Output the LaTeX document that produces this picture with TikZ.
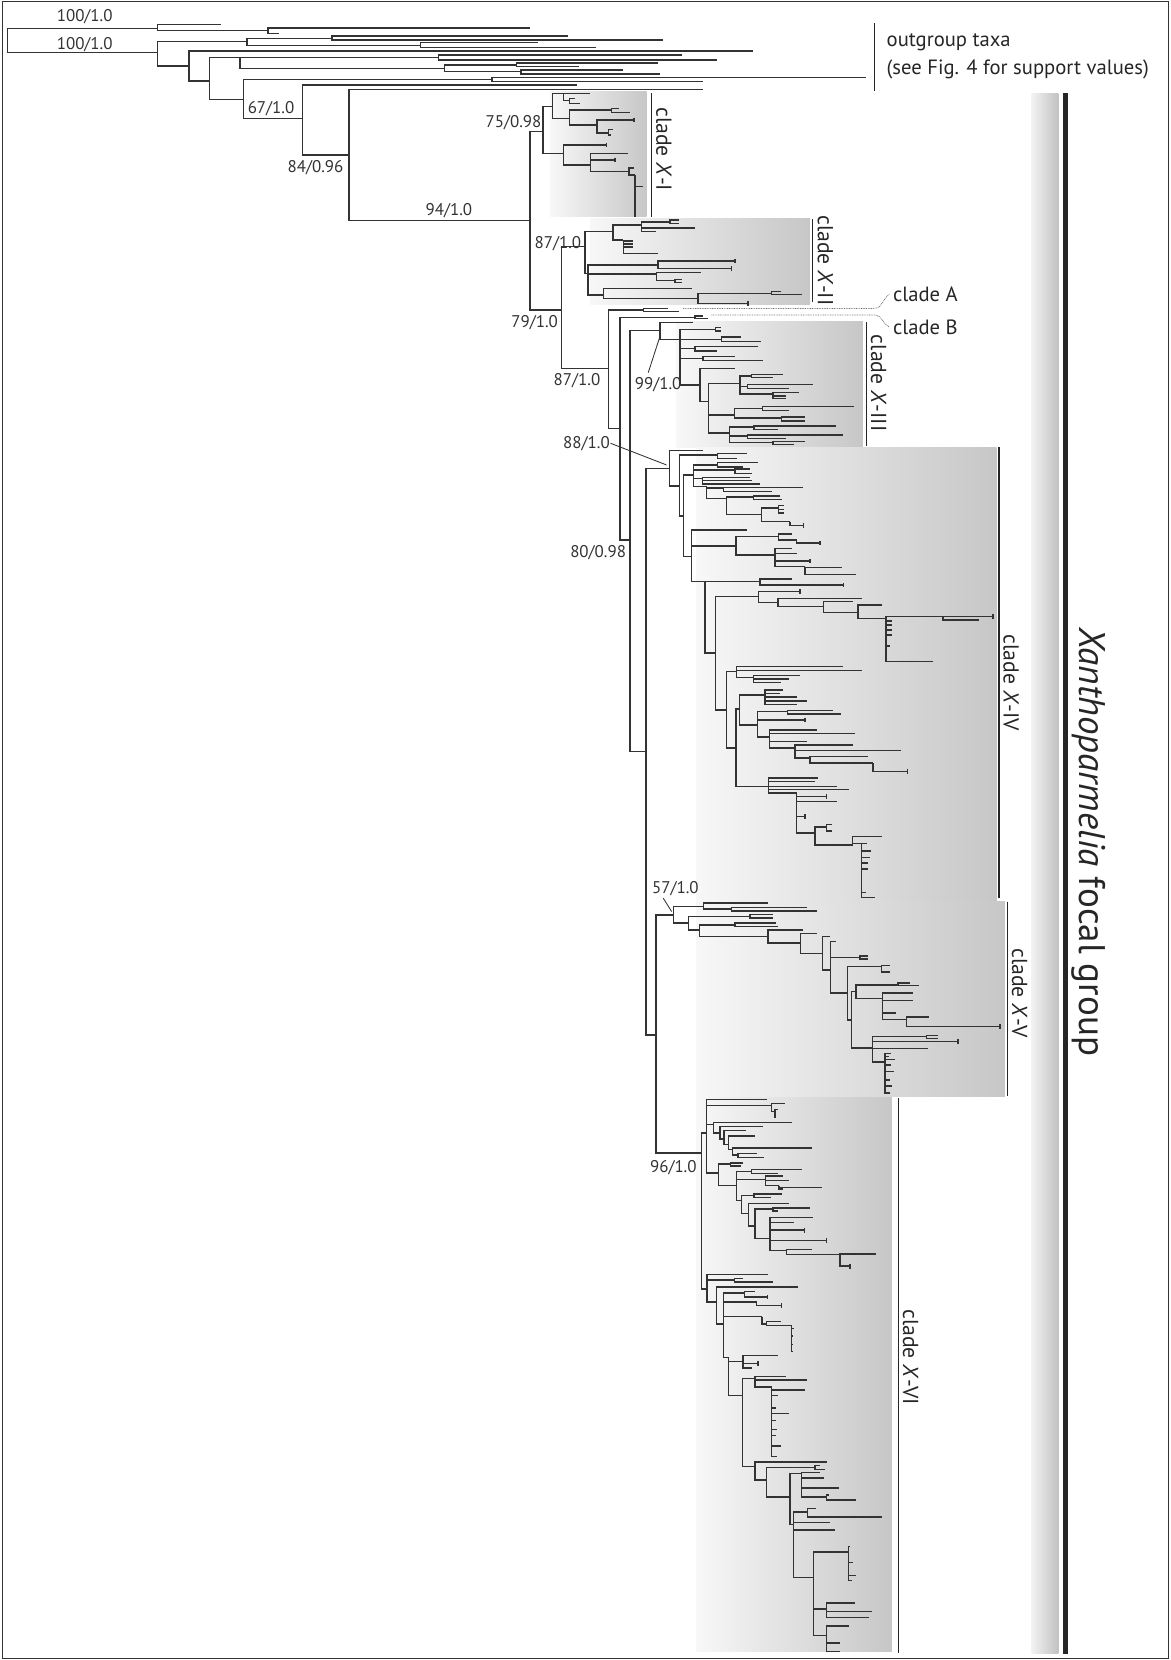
\documentclass[tikz,border=0pt]{standalone}
\usepackage{fontspec}
\setmainfont{PT Sans}
\newcommand\Cl[3]{\foreach \cx/\cy in {#3}{\draw[br] (#1,#2) |- (\cx,\cy);}}
\newcommand\Tk[2]{\draw[br] (#1,#2-2.2) -- (#1,#2+2.2);}
\begin{document}
\begin{tikzpicture}[x=1pt,y=-1pt,
  br/.style={line width=1.35pt, draw=black!80},
  cbar/.style={line width=1.6pt, draw=black!85},
  sup/.style={font=\fontsize{16}{16}\selectfont, text=black!80, inner sep=0.5pt},
  clab/.style={font=\fontsize{20.5}{20.5}\selectfont, rotate=-90, text=black!85, inner sep=0pt},
  gbox/.style={left color=black!3, right color=black!22},
  dotl/.style={draw=black!55, line width=0.7pt, dash pattern=on 0.8pt off 0.8pt},
  lead/.style={draw=black!80, line width=0.8pt}]
\useasboundingbox (0,0) rectangle (1106,1568);
% gradient boxes
\shade[gbox] (519.4,86.6) rectangle (610.7,204.6);
\shade[gbox] (557.2,206.2) rectangle (765,288);
\shade[gbox] (639,303.8) rectangle (815,423);
\shade[gbox] (658,422.5) rectangle (941.3,851.6);
\shade[gbox] (658,851.6) rectangle (949.2,1035.7);
\shade[gbox] (658,1037) rectangle (842.5,1560);
\shade[left color=black!5, right color=black!24] (974.4,88) rectangle (999.6,1562);
% frame
\draw[line width=0.9pt, black!80] (2.5,1.5) rectangle (1104,1566.5);
% ---------- outgroup ----------
\Cl{7}{38}{148.8/26.8, 148.8/49.7}
\Cl{148.8}{26.8}{209/23, 253/29}
\Cl{253}{29}{501/26.5, 264/31.5}
\Cl{148.8}{49.7}{233.5/39.4, 178.5/62.3}
\Cl{233.5}{39.4}{313.6/36.2, 397/43.1}
\Cl{313.6}{36.2}{536.5/34, 626/37.8}
\Cl{397}{43.1}{508/40.3, 563/44.7}
\Cl{178.5}{62.3}{711/48.2, 198/76.5}
\Cl{198}{76.5}{226.6/54.5, 230/93.8}
\Cl{226.6}{54.5}{414/54.5, 420/64.5}
\Cl{414}{54.5}{644.6/52, 677.6/56.5}
\Cl{420}{64.5}{487.6/61.4, 492/67.7}
\Cl{487.6}{61.4}{621.7/59.4, 547/63}
\Cl{492}{67.7}{588/66, 623.5/70}
\Cl{230}{93.8}{464.7/75, 286/111.8}
\Cl{464.7}{75}{818/73, 664/77}
\Cl{286}{111.8}{545/80.3, 329.6/146.4}
\Cl{329.6}{146.4}{664/84.4, 500.5/208.4}
% ---------- focal backbone ----------
\Cl{500.5}{208.4}{513.1/124.4, 530.4/292.8}
% clade X-I
\Cl{513.1}{124.4}{522/100.7, 532/144.8}
\Cl{522}{100.7}{532/88.5, 537.7/111.8}
\Cl{532}{88.5}{557/88.5, 538/95}
\Cl{538}{95}{548/97.5, 543/93}
\Cl{537.7}{111.8}{577.6/104, 564/118}
\Cl{577.6}{104}{595/106.5, 585/102.5}
\Cl{564}{118}{598.7/113.3, 574.5/125.5}
\Tk{598.7}{113.3}
\Cl{574.5}{125.5}{579/122.5, 577/127.5}
\Cl{532}{144.8}{573/137, 557.8/155.8}
\Tk{573}{137}
\Cl{557.8}{155.8}{593.4/144.8, 580.8/151, 594.3/162}
\Tk{580.8}{151}
\Cl{594.3}{162}{599/158.5, 600/165.5}
\Cl{600}{165.5}{607.6/176.3, 600/204.6}
% clade X-II
\Cl{530.4}{292.8}{552.5/233, 574.5/347.9}
\Cl{552.5}{233}{579.2/218.8, 555.6/258.1}
\Cl{579.2}{218.8}{606/212.5, 588.7/226.7}
\Cl{606}{212.5}{632.7/209.5, 656.4/215.3, 620/218.8}
\Cl{632.7}{209.5}{641.5/208, 641.5/211}
\Cl{588.7}{226.7}{598/227.5, 598/230.5, 598/233.5, 621.7/239.3}
\Cl{555.6}{258.1}{621.7/250.3, 620.1/258.8, 569.8/278.6}
\Cl{621.7}{250.3}{694.1/246.5, 691/253.5}
\Tk{694.1}{246.5}\Tk{691}{253.5}
\Cl{620.1}{258.8}{662.6/257.5, 637.5/265}
\Cl{637.5}{265}{644/264, 644/267}
\Cl{569.8}{278.6}{653.2/272.3, 659.5/281.8}
\Cl{659.5}{281.8}{728.7/277.5, 706.7/286.5}
\Cl{728.7}{277.5}{757.1/278, 738/275.5}
\Tk{706.7}{286.5}
% clades A and B
\Cl{574.5}{347.9}{607.6/292.8, 585.5/404.5}
\Cl{607.6}{292.8}{631.2/291.3, 641.6/294}
\Cl{585.5}{404.5}{656.4/299.7, 595/510}
\Cl{656.4}{299.7}{664.2/298.5, 669/301}
% clade X-III
\Cl{595}{510}{623.3/312.3, 610.1/710}
\Cl{623.3}{312.3}{654.8/304.4, 642.2/320.5}
\Cl{642.2}{320.5}{676/311, 681.5/320.5, 656.4/329, 664/338.5, 661/363.6}
\Cl{676}{311}{681/309.5, 681/312.5}
\Cl{681.5}{320.5}{700/318.5, 719/322.5}
\Cl{656.4}{329}{716/327.5, 677/331.5}
\Cl{664}{338.5}{694/337, 721/340.5}
\Cl{661}{363.6}{694/348, 669/379}
\Cl{669}{379}{699/362, 694/392, 689/409.2}
\Cl{699}{362}{710/355, 706/365, 730/372}
\Cl{710}{355}{740/353.5, 730/356.5}
\Cl{706}{365}{768/363, 745/367}
\Cl{730}{372}{755/370.5, 742/374, 742/376.5}
\Cl{694}{392}{720/386, 738/395}
\Cl{720}{386}{807/384, 745/388}
\Cl{738}{395}{760/394, 760/397.5}
\Cl{689}{409.2}{712/403.5, 706/412, 730/418}
\Cl{712}{403.5}{790/402.5, 735/405.5}
\Cl{706}{412}{796/411, 742/414}
\Cl{730}{418}{760/417, 750/420}
% clade X-IV
\Cl{610.1}{710}{632.2/442.3, 619.6/977.5}
\Cl{632.2}{442.3}{664.3/425.7, 641.6/459}
\Cl{641.6}{459}{677.5/429.8, 645.4/487.4}
\Cl{677.5}{429.8}{705.2/428.5, 695.8/433}
\Cl{645.4}{487.4}{654.9/448.7, 653.3/525.8}
\Cl{654.9}{448.7}{677.5/439.2, 694.2/444, 663.7/452, 667.5/459.7}
\Cl{677.5}{439.2}{716.3/437, 702.1/441}
\Cl{694.2}{444}{708.4/443, 710/447}
\Cl{663.7}{452}{708.4/451, 710/454, 717.8/457}
\Cl{667.5}{459.7}{683.2/461, 686/470.7}
\Cl{683.2}{461}{758.8/460.5, 728.8/464}
\Cl{686}{470.7}{711.5/469.5, 719.4/486}
\Cl{711.5}{469.5}{736.7/468.5, 738.3/472}
\Cl{719.4}{486}{735.2/480, 746.2/492.7}
\Cl{735.2}{480}{741/477.5, 741/481, 741/484.5}
\Cl{746.2}{492.7}{758.8/496.5}
\Tk{758.8}{496.5}
\Cl{653.3}{525.8}{705.2/500.6, 695.2/515.7, 665.8/549.4}
\Cl{695.2}{515.7}{735.1/506.5, 732/524.3}
\Cl{735.1}{506.5}{747.7/504.4, 752.5/510}
\Cl{752.5}{510}{774.5/513}
\Tk{774.5}{513}
\Cl{732}{524.3}{747.7/518, 752.5/522.6, 765/530, 760.3/535.3}
\Tk{765}{530}
\Cl{760.3}{535.3}{795/536, 808.5/542.5}
\Cl{665.8}{549.4}{717.8/549.4, 675.9/617}
\Cl{717.8}{549.4}{747.7/547, 796.5/552.5}
\Tk{796.5}{552.5}
\Cl{675.9}{617}{716.2/563.5, 686.3/670.6}
\Cl{716.2}{563.5}{755.5/558.7, 735/569}
\Tk{755.5}{558.7}
\Cl{735}{569}{813.8/565.1, 777.6/573}
\Cl{777.6}{573}{805.9/568.3, 810.6/578.6}
\Cl{810.6}{578.6}{832.7/571.4, 836.8/584}
\Cl{836.8}{584}{938/582.4, 843/586.5, 843/590.5, 843/595, 843/600, 841/610, 881.5/625}
\draw[br] (890.9,582.4) |- (925,585.5);
\Tk{938}{582.4}
\Cl{686.3}{670.6}{695.7/634.3, 695.1/706.7}
\Cl{695.7}{634.3}{796.5/629.5, 813.8/633.5, 711.5/640}
\Cl{711.5}{640}{755.5/638, 745/641.5, 738/644.5}
\Cl{695.1}{706.7}{698.3/669.9, 725.7/742.9}
\Cl{698.3}{669.9}{722.5/656.4, 715.3/684.7}
\Cl{722.5}{656.4}{739.8/651.6, 736.7/655, 752.5/658.5, 761.9/662, 752.5/665.5}
\Cl{715.3}{684.7}{743.6/672, 760.3/680, 726.6/696}
\Cl{743.6}{672}{787/671, 794/674.5}
\Tk{760.3}{680}
\Cl{726.6}{696}{771.3/689.5, 807.5/692.6, 761.9/700.4, 750.8/706.7}
\Cl{750.8}{706.7}{805.9/703.6, 850.6/709, 765/716}
\Cl{765}{716}{820/714.6, 824.8/720.9}
\Cl{824.8}{720.9}{857.2/728.5}
\Tk{857.2}{728.5}
\Cl{725.7}{742.9}{772.9/735, 769.7/738.3, 790.2/742.9, 802.2/746, 752.5/749.2}
\Cl{752.5}{749.2}{780.7/752.3, 790.2/757.1, 760.3/771.3, 769.7/787}
\Tk{780.7}{752.3}\Tk{760.3}{771.3}
\Cl{769.7}{787}{780.7/781, 805.3/798}
\Cl{780.7}{781}{785.5/778.6, 785.5/784.8}
\Cl{805.3}{798}{832.7/790.2, 813.8/796.5}
\Cl{813.8}{796.5}{819/796.5, 823/804, 822/810, 820/815, 820/821, 818/843, 826.4/848}
% clade X-V
\Cl{619.6}{977.5}{636/864.2, 662.7/1089}
\Cl{636}{864.2}{664.3/856.3, 650.1/872}
\Cl{664.3}{856.3}{725.6/853.1, 691/858.8}
\Cl{691}{858.8}{762.5/857, 771.3/860.5}
\Cl{650.1}{872}{708.3/865.7, 660.5/878.3}
\Cl{708.3}{865.7}{730.4/864, 730.4/867}
\Cl{660.5}{878.3}{694.2/873.6, 725.6/884.6}
\Cl{694.2}{873.6}{733/872, 735/875}
\Cl{725.6}{884.6}{758.7/878.3, 756.2/890.9}
\Cl{756.2}{890.9}{771.9/881.5, 777/900.4}
\Cl{777}{900.4}{784/884.6, 784.5/916.1}
\Cl{784.5}{916.1}{790/889.3, 812.2/904.5, 800.3/938.1}
\Cl{812.2}{904.5}{820.1/903, 820/906}
\Cl{800.3}{938.1}{832.7/913, 804.3/963.3}
\Cl{832.7}{913}{840.5/912, 840.5/918}
\Cl{804.3}{963.3}{808.4/936.6, 824.2/990}
\Cl{808.4}{936.6}{848.4/930.3, 833.6/943}
\Cl{848.4}{930.3}{868.2/931, 860/928.5}
\Cl{833.6}{943}{862.6/938.1, 862.6/945, 846.8/957, 856/963}
\Cl{856}{963}{877.7/960.5, 944.4/969.5}
\Tk{944.4}{969.5}
\Cl{824.2}{990}{875.2/979, 905/984, 876.8/990.5, 835.8/1003}
\Cl{875.2}{979}{886.2/978, 886.2/981}
\Tk{905}{984}
\Cl{835.8}{1003}{842/995, 840/998, 845/1001, 842/1006, 844/1012, 841/1020, 843/1026, 841/1032.6}
% clade X-VI
\Cl{662.7}{1089}{667.4/1070, 668/1217.6}
\Cl{667.4}{1070}{724.1/1038.7, 728.8/1044, 673.7/1062, 678.5/1108}
\Cl{728.8}{1044}{741.4/1042.5, 732/1050}
\Cl{732}{1050}{735/1048, 733/1055}
\Cl{673.7}{1062}{747.7/1060.5, 680/1070}
\Cl{680}{1070}{720.9/1064, 684/1076}
\Cl{684}{1076}{705/1068, 688/1081}
\Cl{688}{1081}{713/1073, 692/1086}
\Cl{692}{1086}{766.6/1084.5, 697/1091}
\Cl{697}{1091}{715/1089.5, 722/1093.5}
\Cl{678.5}{1108}{690/1099.5, 695.8/1120}
\Cl{690}{1099.5}{702/1098.5, 700/1101.5}
\Cl{695.8}{1120}{710/1106.5, 723/1114, 700.5/1134}
\Cl{710}{1106.5}{757.1/1104.5, 735/1108.5}
\Cl{723}{1114}{739.8/1111, 745/1115, 736/1120}
\Cl{736}{1120}{776/1121.5, 740/1123}
\Cl{700.5}{1134}{712/1129, 706.8/1146}
\Cl{712}{1129}{739/1128, 728/1131}
\Cl{706.8}{1146}{745/1137, 713.1/1158}
\Cl{713.1}{1158}{730/1142, 727.2/1170}
\Cl{730}{1142}{765/1141, 735/1144}
\Cl{727.2}{1170}{768.2/1149.9, 750/1155, 760/1162, 780.7/1171.5, 742.9/1181.2}
\Tk{760}{1162}\Tk{780.7}{1171.5}
\Cl{742.9}{1181.2}{766.6/1180, 793.3/1185}
\Cl{793.3}{1185}{827.9/1184.6, 802.8/1196}
\Tk{802.8}{1196}
\Cl{668}{1217.6}{725.7/1203.7, 693.7/1209, 676.9/1229.8}
\Cl{693.7}{1209}{702/1207.5, 730/1211}
\Cl{676.9}{1229.8}{754/1215.6, 683.2/1250.6}
\Cl{683.2}{1250.6}{703.4/1221.5, 714.6/1229.8, 719.6/1243.7, 688/1282}
\Cl{703.4}{1221.5}{713/1220, 724.8/1225}
\Tk{724.8}{1225}
\Cl{714.6}{1229.8}{738.3/1233}
\Tk{738.3}{1233}
\Cl{719.6}{1243.7}{724.1/1250.6}
\Cl{724.1}{1250.6}{738/1248, 747.7/1252}
\Cl{747.7}{1252}{750/1255, 749/1262, 748/1270, 748/1276.7}
\Cl{688}{1282}{702/1286, 701.4/1318.4}
\Cl{702}{1286}{735/1280.5, 716/1288, 710/1292}
\Tk{716}{1288}
\Cl{701.4}{1318.4}{713/1302, 713.1/1385}
\Cl{713}{1302}{742.9/1300, 761.9/1303.5, 728.8/1310}
\Cl{728.8}{1310}{760/1313, 735/1318, 733/1330, 745/1335, 733/1342, 734/1350, 733/1356, 738/1366, 734/1375.7}
\Cl{713.1}{1385}{781/1381, 724.1/1398}
\Cl{724.1}{1398}{770/1386, 746.1/1414}
\Cl{770}{1386}{775/1384, 779/1388}
\Cl{746.1}{1414}{757.1/1392, 749.3/1440}
\Cl{757.1}{1392}{774.5/1391, 778/1396, 792.7/1405.5, 780.7/1414}
\Cl{780.7}{1414}{809/1417, 783/1412}
\Cl{749.3}{1440}{763/1428, 784/1438.3, 789/1445, 768.2/1490}
\Cl{763}{1428}{832.7/1433, 771/1425}
\Cl{768.2}{1490}{801.5/1466, 780.7/1520, 780.7/1545}
\Cl{801.5}{1466}{803/1461, 806/1476, 809/1488, 805/1493}
\Cl{780.7}{1520}{808/1514, 823.3/1522, 821/1528}
\Cl{780.7}{1545}{801.5/1536, 793.3/1552, 793.3/1560}
% ---------- clade bars ----------
\draw[cbar] (615.4,88.2) -- (615.4,204.6);
\draw[cbar] (767.5,207) -- (767.5,285);
\draw[cbar] (818.5,304) -- (818.5,421);
\draw[cbar] (943.8,422.5) -- (943.8,848);
\draw[cbar] (951.7,851.6) -- (951.7,1035.7);
\draw[cbar] (848.8,1037) -- (848.8,1561);
\draw[line width=1pt, black!85] (826,22) -- (826,86);
\draw[line width=4.5pt, black!85] (1006.5,88) -- (1006.5,1562);
% ---------- labels ----------
\node[clab] (c1) at (627,141) {clade \textit{X}-I};
\node[clab] (c2) at (779.5,246) {clade \textit{X}-II};
\node[clab] (c3) at (830,362) {clade \textit{X}-III};
\node[clab] (c4) at (955,645) {clade \textit{X}-IV};
\node[clab] (c5) at (963,938) {clade \textit{X}-V};
\node[clab] (c6) at (860,1282) {clade \textit{X}-VI};
\node[font=\fontsize{35}{35}\selectfont, rotate=-90, text=black!85, inner sep=0pt] (xf) at (1028,795) {\textit{Xanthoparmelia} focal group};
\node[anchor=west, font=\fontsize{19.5}{19.5}\selectfont, text=black!85] (og1) at (834,40) {outgroup taxa};
\node[anchor=west, font=\fontsize{19.5}{19.5}\selectfont, text=black!85] (og2) at (834,66) {(see Fig. 4 for support values)};
\node[anchor=west, font=\fontsize{19.5}{19.5}\selectfont, text=black!85] (cA) at (840,278) {clade A};
\node[anchor=west, font=\fontsize{19.5}{19.5}\selectfont, text=black!85] (cB) at (840,309) {clade B};
\coordinate (dA0) at (645.3,291.3);
\coordinate (dB0) at (672,297.6);
\draw[dotl] (dA0) -- (826,291.3) .. controls (833,291.3) and (834,282) .. (cA.west);
\draw[dotl] (dB0) -- (826,297.6) .. controls (833,297.6) and (834,306) .. (cB.west);
% support values
\node[sup] (s1) at (80,16) {100/1.0};
\node[sup] (s2) at (80,42) {100/1.0};
\node[sup] (s3) at (256,103) {67/1.0};
\node[sup] (s4) at (298,158) {84/0.96};
\node[sup] (s5) at (424,199) {94/1.0};
\node[sup] (s6) at (485,116) {75/0.98};
\node[sup] (s7) at (527,230) {87/1.0};
\node[sup] (s8) at (505,305) {79/1.0};
\node[sup] (s9) at (545,360) {87/1.0};
\node[sup] (s10) at (621.7,363.6) {99/1.0};
\node[sup] (s11) at (554,418.7) {88/1.0};
\node[sup] (s12) at (565,522) {80/0.98};
\node[sup] (s13) at (638,839) {57/1.0};
\node[sup] (s14) at (636,1103) {96/1.0};
\coordinate (n99) at (623.3,318);
\coordinate (n88) at (629.6,439.2);
\coordinate (n57) at (634.4,861);
\draw[lead] (612.3,352) -- (n99);
\draw[lead] (s11.east) -- (n88);
\draw[lead] (626.5,848.4) -- (n57);
\end{tikzpicture}
\end{document}
